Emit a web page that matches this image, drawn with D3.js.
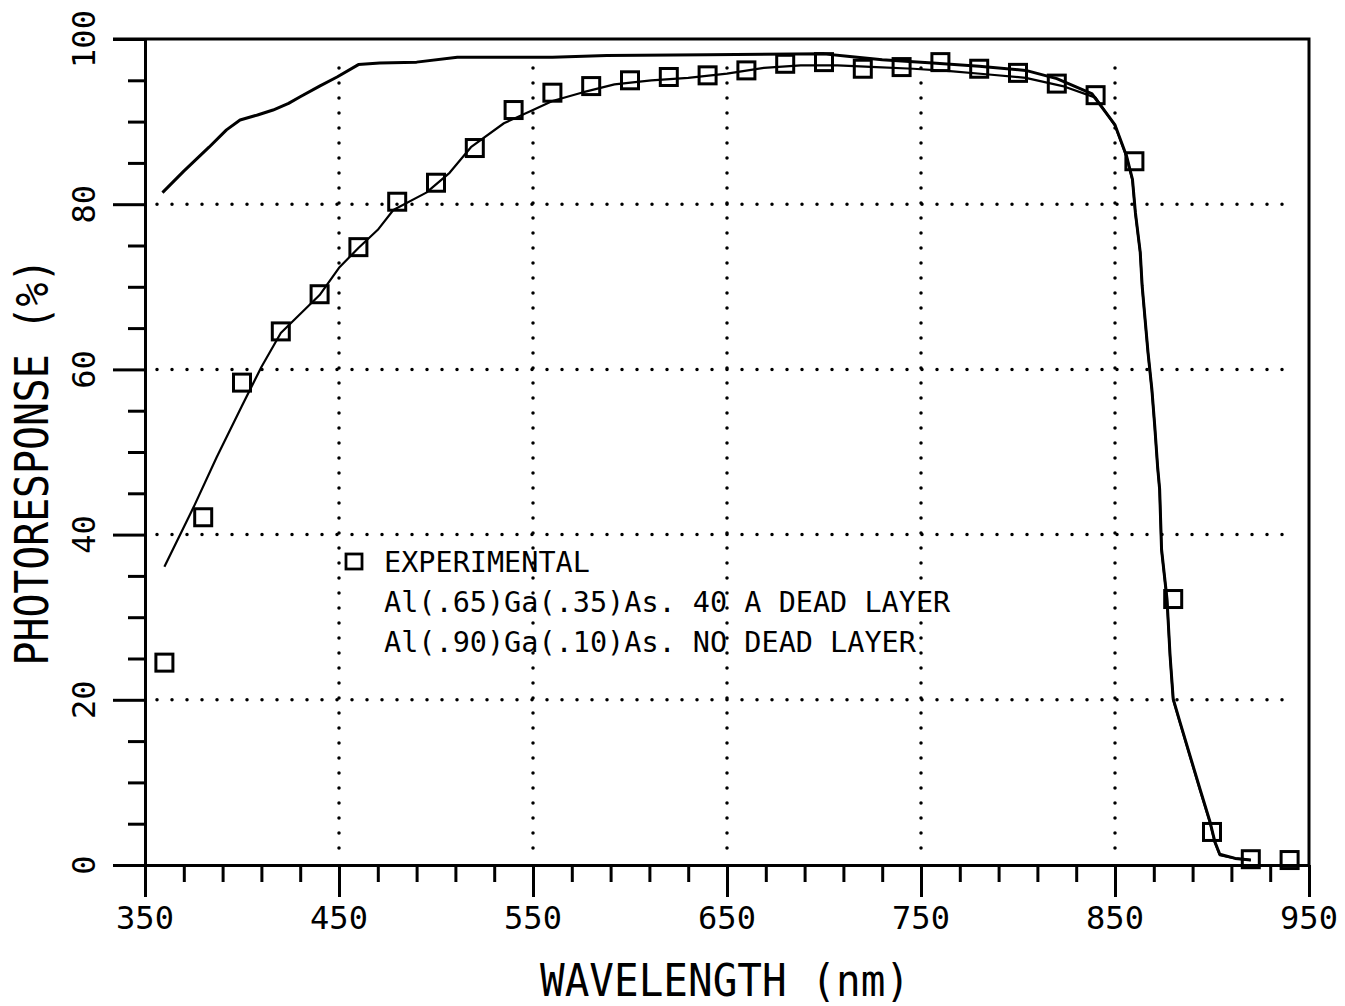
<!DOCTYPE html>
<html>
<head>
<meta charset="utf-8">
<title>Photoresponse vs wavelength</title>
<script src="https://cdn.jsdelivr.net/npm/d3@7"></script>
<style>
  body { margin: 0; background: #fff; }
  text { font-family: "DejaVu Sans Mono", "Liberation Mono", monospace; fill: #000; }
</style>
</head>
<body>
<div id="chart"></div>
<script>
// experimental points (squares)
var expWave = [360, 380, 400, 420, 440, 460, 480, 500, 520, 540, 560, 580, 600, 620, 640,
               660, 680, 700, 720, 740, 760, 780, 800, 820, 840, 860, 880, 900, 920, 940];
var expResp = [24.5, 42.1, 58.4, 64.6, 69.1, 74.8, 80.3, 82.6, 86.8, 91.4, 93.5, 94.3, 95.0, 95.4, 95.6,
               96.2, 97.0, 97.2, 96.4, 96.6, 97.2, 96.4, 95.9, 94.6, 93.2, 85.2, 32.2, 4.0, 0.7, 0.6];

// Al(.65)Ga(.35)As, 40 A dead layer
var deadWave = [360, 375, 387, 400, 410, 420, 440, 450, 460, 470, 478, 495, 507, 518, 535, 550,
                560, 575, 592, 611, 630, 650, 669, 688, 707, 727, 746, 765, 785, 804, 823, 840,
                850, 856, 859, 860.5, 863, 864, 865.5, 867, 869, 870.5, 872, 873, 874, 876.8,
                878.4, 880, 883.5, 888.7, 893.8, 899, 901.5, 904, 912, 920];
var deadResp = [36.1, 43.3, 49.4, 55.6, 60.3, 64.4, 69.0, 72.3, 74.7, 76.9, 79.3, 81.4, 83.8, 86.9, 89.8, 91.4,
                92.5, 93.5, 94.5, 95.0, 95.3, 95.8, 96.5, 96.8, 96.8, 96.6, 96.4, 96.1, 95.7, 95.3, 94.3, 92.9,
                89.5, 85.7, 82.9, 78.9, 74.1, 70.0, 66.0, 62.0, 57.5, 53.0, 48.0, 45.4, 38.1, 32.1,
                25.2, 20.0, 17.2, 13.1, 9.1, 5.1, 2.7, 1.2, 0.8, 0.6];

// Al(.90)Ga(.10)As, no dead layer
var noDeadWave = [359, 370, 383, 392, 399, 408, 416, 424, 430, 440, 449, 460, 471, 490, 511, 560,
                  588, 640, 700, 712, 730, 756, 780, 804, 820, 838,
                  850, 856, 859, 860.5, 863, 864, 865.5, 867, 869, 870.5, 872, 873, 874, 876.8,
                  878.4, 880, 883.5, 888.7, 893.8, 899, 901.5, 904, 912, 920];
var noDeadResp = [81.4, 84.0, 86.9, 89.0, 90.2, 90.8, 91.4, 92.2, 93.0, 94.3, 95.4, 96.9, 97.1, 97.2, 97.8, 97.8,
                  98.0, 98.1, 98.2, 97.9, 97.5, 97.1, 96.7, 96.2, 95.2, 93.4,
                  89.6, 85.8, 83.0, 79.0, 74.2, 70.1, 66.1, 62.1, 57.6, 53.1, 48.1, 45.5, 38.2, 32.2,
                  25.3, 20.1, 17.3, 13.2, 9.2, 5.2, 2.8, 1.3, 0.8, 0.6];

var xMajor = [350, 450, 550, 650, 750, 850, 950];
var xMinor = [370, 390, 410, 430, 470, 490, 510, 530, 570, 590, 610, 630, 670, 690, 710, 730,
              770, 790, 810, 830, 870, 890, 910, 930];
var yMajor = [0, 20, 40, 60, 80, 100];
var yMinor = [5, 10, 15, 25, 30, 35, 45, 50, 55, 65, 70, 75, 85, 90, 95];
var xGrid = [450, 550, 650, 750, 850];
var yGrid = [20, 40, 60, 80];

var legendLines = ["EXPERIMENTAL",
                   "Al(.65)Ga(.35)As. 40 A DEAD LAYER",
                   "Al(.90)Ga(.10)As. NO DEAD LAYER"];

var width = 1345, height = 1006;
var x = d3.scaleLinear().domain([350, 950]).range([145, 1309]);
var y = d3.scaleLinear().domain([0, 100]).range([865, 39]);

var svg = d3.select('#chart').append('svg')
    .attr('width', width)
    .attr('height', height);

svg.append('rect').attr('width', width).attr('height', height).attr('fill', '#fff');

// dotted grid
svg.append('g').selectAll('line')
    .data(yGrid).enter().append('line')
    .attr('x1', 157).attr('x2', 1283)
    .attr('y1', d => y(d)).attr('y2', d => y(d))
    .attr('stroke', '#000').attr('stroke-width', 3.5)
    .attr('stroke-linecap', 'round').attr('stroke-dasharray', '0,15');

svg.append('g').selectAll('line')
    .data(xGrid).enter().append('line')
    .attr('x1', d => x(d)).attr('x2', d => x(d))
    .attr('y1', 68).attr('y2', 862)
    .attr('stroke', '#000').attr('stroke-width', 3.5)
    .attr('stroke-linecap', 'round').attr('stroke-dasharray', '0,15');

// axes
function styleAxis(g) {
    g.selectAll('path, line').attr('stroke', '#000').attr('stroke-width', 3);
    g.selectAll('text').remove();
}

svg.append('g').attr('transform', 'translate(0,' + y(0) + ')')
    .call(d3.axisBottom(x).tickValues(xMajor).tickSize(32).tickSizeOuter(0))
    .call(styleAxis);
svg.append('g').attr('transform', 'translate(0,' + y(0) + ')')
    .call(d3.axisBottom(x).tickValues(xMinor).tickSize(17).tickSizeOuter(0))
    .call(styleAxis);
svg.append('g').attr('transform', 'translate(' + x(350) + ',0)')
    .call(d3.axisLeft(y).tickValues(yMajor).tickSize(32).tickSizeOuter(0))
    .call(styleAxis);
svg.append('g').attr('transform', 'translate(' + x(350) + ',0)')
    .call(d3.axisLeft(y).tickValues(yMinor).tickSize(17).tickSizeOuter(0))
    .call(styleAxis);

// top and right border
svg.append('path')
    .attr('d', 'M' + (x(350) - 32) + ',' + y(100) + 'H' + x(950) + 'V' + y(0))
    .attr('fill', 'none').attr('stroke', '#000').attr('stroke-width', 3);

// tick labels
svg.append('g').selectAll('text')
    .data(xMajor).enter().append('text')
    .attr('x', d => x(d)).attr('y', 929)
    .attr('text-anchor', 'middle')
    .attr('font-size', 32)
    .text(d => d);

svg.append('g').selectAll('text')
    .data(yMajor).enter().append('text')
    .attr('transform', d => 'translate(95,' + y(d) + ') rotate(-90)')
    .attr('text-anchor', 'middle')
    .attr('font-size', 32)
    .text(d => d);

// axis titles
svg.append('text')
    .attr('transform', 'translate(48,462) rotate(-90)')
    .attr('text-anchor', 'middle')
    .attr('font-size', 46)
    .attr('textLength', 407).attr('lengthAdjust', 'spacingAndGlyphs')
    .text('PHOTORESPONSE (%)');

svg.append('text')
    .attr('x', 725).attr('y', 996)
    .attr('text-anchor', 'middle')
    .attr('font-size', 44)
    .attr('textLength', 370).attr('lengthAdjust', 'spacingAndGlyphs')
    .text('WAVELENGTH (nm)');

// curves
var line = d3.line().x(d => x(d[0])).y(d => y(d[1]));

svg.append('path')
    .datum(d3.zip(noDeadWave, noDeadResp))
    .attr('d', line)
    .attr('fill', 'none').attr('stroke', '#000').attr('stroke-width', 3)
    .attr('stroke-linejoin', 'round');

svg.append('path')
    .datum(d3.zip(deadWave, deadResp))
    .attr('d', line)
    .attr('fill', 'none').attr('stroke', '#000').attr('stroke-width', 2.2)
    .attr('stroke-linejoin', 'round');

// experimental squares
var sq = 17;
svg.append('g').selectAll('rect')
    .data(d3.zip(expWave, expResp)).enter().append('rect')
    .attr('x', d => x(d[0]) - sq / 2)
    .attr('y', d => y(d[1]) - sq / 2)
    .attr('width', sq).attr('height', sq)
    .attr('fill', 'none').attr('stroke', '#000').attr('stroke-width', 3);

// legend
svg.append('rect')
    .attr('x', 346).attr('y', 554).attr('width', 16).attr('height', 15)
    .attr('fill', '#fff').attr('stroke', '#000').attr('stroke-width', 2.8);

svg.append('g').selectAll('text')
    .data(legendLines).enter().append('text')
    .attr('x', 384)
    .attr('y', (d, i) => 572 + i * 40)
    .attr('font-size', 28.5)
    .text(d => d);
</script>
</body>
</html>
